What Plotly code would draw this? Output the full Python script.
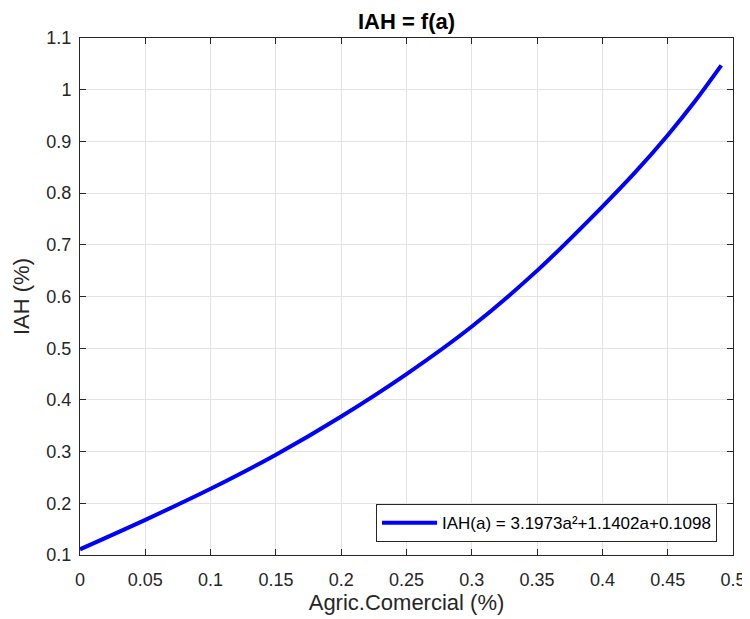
import plotly.graph_objects as go

# Data
a_vals = [0.0, 0.05, 0.10, 0.15, 0.20, 0.25, 0.30, 0.35, 0.40, 0.425, 0.45, 0.471, 0.491]
iah_vals = [0.111, 0.168, 0.228, 0.294, 0.368, 0.450, 0.542, 0.650, 0.774, 0.840, 0.912, 0.978, 1.047]
series_name = "IAH(a) = 3.1973a²+1.1402a+0.1098"
x_ticks = [0, 0.05, 0.1, 0.15, 0.2, 0.25, 0.3, 0.35, 0.4, 0.45, 0.5]
x_tick_text = ["0", "0.05", "0.1", "0.15", "0.2", "0.25", "0.3", "0.35", "0.4", "0.45", "0.5"]
y_ticks = [0.1, 0.2, 0.3, 0.4, 0.5, 0.6, 0.7, 0.8, 0.9, 1.0, 1.1]
y_tick_text = ["0.1", "0.2", "0.3", "0.4", "0.5", "0.6", "0.7", "0.8", "0.9", "1", "1.1"]

FONT = "Liberation Sans, Arial, sans-serif"

fig = go.Figure()
fig.add_trace(go.Scatter(
    x=a_vals, y=iah_vals, mode="lines", name=series_name,
    line=dict(color="rgb(0,0,255)", width=4, shape="spline", smoothing=0.8),
))

axis_common = dict(
    showline=True, linecolor="#262626", linewidth=1, mirror="ticks",
    ticks="inside", ticklen=6, tickcolor="#262626",
    showgrid=True, gridcolor="#e3e3e3", gridwidth=1, zeroline=False,
    automargin=False,
    tickfont=dict(family=FONT, size=18, color="#262626"),
)

fig.update_xaxes(range=[0, 0.5], tickvals=x_ticks, ticktext=x_tick_text,
                 ticklabelstandoff=8,
                 title=dict(text="Agric.Comercial (%)", standoff=6,
                            font=dict(family=FONT, size=22, color="#262626")),
                 **axis_common)
fig.update_yaxes(range=[0.1, 1.1], tickvals=y_ticks, ticktext=y_tick_text,
                 ticklabelstandoff=4,
                 title=dict(text="IAH (%)", standoff=10,
                            font=dict(family=FONT, size=22, color="#262626")),
                 **axis_common)

fig.update_layout(
    width=742, height=611,
    margin=dict(l=72, r=17, t=30, b=64),
    paper_bgcolor="white", plot_bgcolor="white",
    title=dict(text="<b>IAH = f(a)</b>", x=0.5, xref="paper", xanchor="center",
               y=0.979, yanchor="middle",
               font=dict(family=FONT, size=22, color="#000000")),
    showlegend=True,
    legend=dict(x=0.9755, y=0.0246, xanchor="right", yanchor="bottom",
                bgcolor="white", bordercolor="#262626", borderwidth=1,
                itemwidth=55,
                font=dict(family=FONT, size=17, color="#000000")),
)

fig.write_html("out.html")
